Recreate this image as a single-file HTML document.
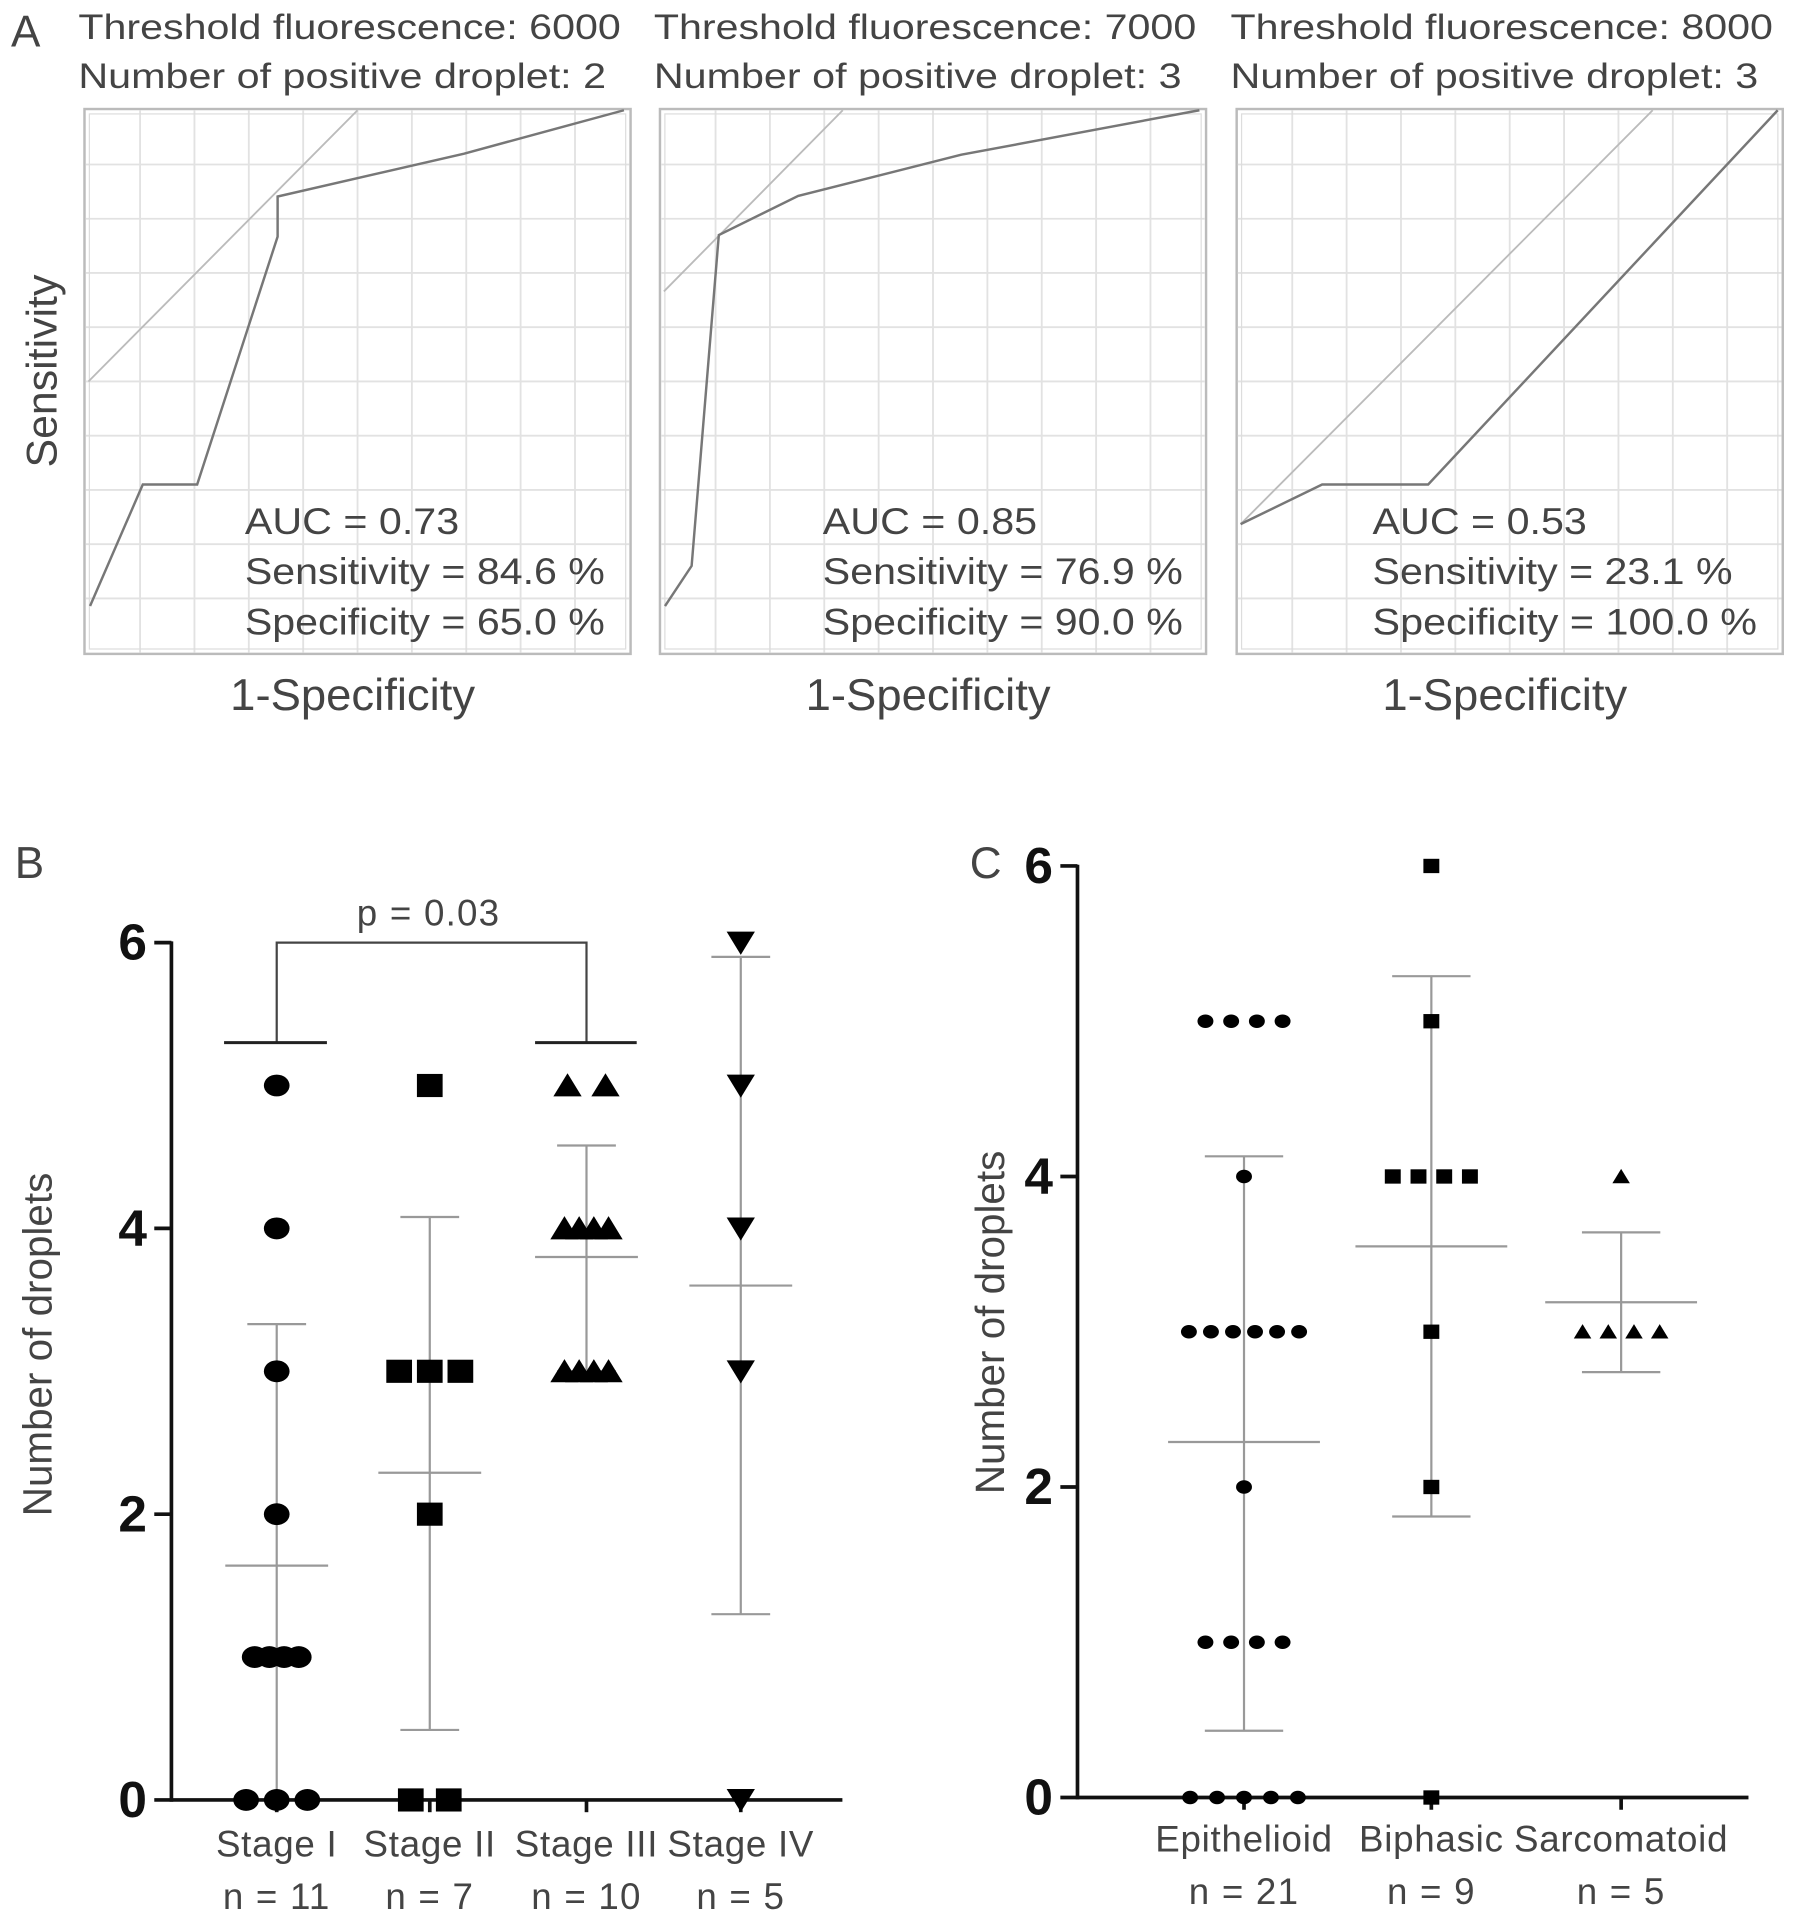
<!DOCTYPE html>
<html><head><meta charset="utf-8"><style>
html,body{margin:0;padding:0;background:#fff;}
svg{display:block;}
text{font-family:"Liberation Sans",sans-serif;}
</style></head><body>
<svg id="fig" xmlns="http://www.w3.org/2000/svg" width="1795" height="1920" viewBox="0 0 1466 1568">
<rect x="0" y="0" width="1466" height="1568" fill="#fff"/>
<g id="panelA"></g>
<g id="panelB"></g>
<g id="panelC"></g>
</svg>
<script>
// ---- Panel A data (ROC curves) ----
const rocThresholds = ["6000", "7000", "8000"];
const rocPositive = ["2", "3", "3"];
const rocAUC = ["0.73", "0.85", "0.53"];
const rocSens = ["84.6", "76.9", "23.1"];
const rocSpec = ["65.0", "90.0", "100.0"];
const roc1X = [0.008, 0.105, 0.205, 0.353, 0.353, 0.696, 0.99];
const roc1Y = [0.086, 0.31, 0.31, 0.767, 0.841, 0.92, 1.0];
const roc2X = [0.007, 0.056, 0.106, 0.252, 0.552, 0.99];
const roc2Y = [0.086, 0.16, 0.77, 0.842, 0.918, 1.0];
const roc3X = [0.005, 0.155, 0.35, 0.993];
const roc3Y = [0.237, 0.31, 0.31, 1.0];
const refStartY = [0.5, 0.666, 0.237];

// ---- Panel B data ----
const stageCats = ["Stage I", "Stage II", "Stage III", "Stage IV"];
const stageN = ["n = 11", "n = 7", "n = 10", "n = 5"];
const stageI = [5, 4, 3, 2, 1, 1, 1, 1, 0, 0, 0];
const stageII = [5, 3, 3, 3, 2, 0, 0];
const stageIII = [5, 5, 4, 4, 4, 4, 3, 3, 3, 3];
const stageIV = [6, 5, 4, 3, 0];
const stageMean = [1.64, 2.29, 3.8, 3.6];
const stageSDTop = [3.33, 4.08, 4.58, 5.9];
const stageSDBot = [-0.1, 0.49, 3.0, 1.3];
const bTicks = ["0", "2", "4", "6"];

// ---- Panel C data ----
const histCats = ["Epithelioid", "Biphasic", "Sarcomatoid"];
const histN = ["n = 21", "n = 9", "n = 5"];
const epithelioid = [5, 5, 5, 5, 4, 3, 3, 3, 3, 3, 3, 2, 1, 1, 1, 1, 0, 0, 0, 0, 0];
const biphasic = [6, 5, 4, 4, 4, 4, 3, 2, 0];
const sarcomatoid = [4, 3, 3, 3, 3];
const histMean = [2.29, 3.55, 3.19];
const histSDTop = [4.13, 5.29, 3.64];
const histSDBot = [0.43, 1.81, 2.74];
const cTicks = ["0", "2", "4", "6"];

const NS = "http://www.w3.org/2000/svg";
function mk(parent, tag, attrs, txt) {
  const e = document.createElementNS(NS, tag);
  for (const k in attrs) e.setAttribute(k, attrs[k]);
  if (txt !== undefined) e.textContent = txt;
  parent.appendChild(e);
  return e;
}

// ===== Panel A =====
const A = document.getElementById('panelA');
const lblA = mk(A, 'text', {x: 9, y: 38, 'font-size': 36, fill: '#444'}, 'A');


const boxX = [70, 540, 1011];
const statX = [200, 672, 1121];
const boxY = 90, boxW = 444, boxH = 443;
const rocXs = [roc1X, roc2X, roc3X], rocYs = [roc1Y, roc2Y, roc3Y];
for (let p = 0; p < 3; p++) {
  const g = mk(A, 'g', {});
  
  
  const bx = boxX[p];
  const sx = v => bx + v * boxW;
  const sy = v => boxY + boxH - v * boxH;
  const t1 = mk(g, 'text', {x: bx - 6, y: 32, 'font-size': 29, fill: '#444', textLength: 443, lengthAdjust: 'spacingAndGlyphs'}, 'Threshold  fluorescence: ' + rocThresholds[p]);
  
  
  const t2 = mk(g, 'text', {x: bx - 6, y: 72, 'font-size': 29, fill: '#444', textLength: 431, lengthAdjust: 'spacingAndGlyphs'}, 'Number  of positive droplet:  ' + rocPositive[p]);
  
  
  mk(g, 'rect', {x: bx - 1, y: boxY - 1, width: boxW + 2, height: boxH + 2, fill: '#fff', stroke: '#bbb', 'stroke-width': 2});
  for (let i = 1; i < 10; i++) {
    mk(g, 'line', {x1: sx(i / 10), x2: sx(i / 10), y1: boxY, y2: boxY + boxH, stroke: '#e2e2e2', 'stroke-width': 1.5});
    mk(g, 'line', {y1: sy(i / 10), y2: sy(i / 10), x1: bx, x2: bx + boxW, stroke: '#e2e2e2', 'stroke-width': 1.5});
  }
  mk(g, 'rect', {x: bx + 3, y: boxY + 3, width: boxW - 6, height: boxH - 6, fill: 'none', stroke: '#ddd', 'stroke-width': 1});
  const r0 = refStartY[p];
  const ref = mk(g, 'line', {x1: sx(0.005), y1: sy(r0), x2: sx(1 - r0), y2: sy(1), stroke: '#bbb', 'stroke-width': 1.5});
  
  
  const pts = rocXs[p].map((v, i) => sx(v) + ',' + sy(rocYs[p][i])).join(' ');
  const curve = mk(g, 'polyline', {points: pts, fill: 'none', stroke: '#777', 'stroke-width': 2});
  
  
  const tx = statX[p], tw = p === 2 ? 314 : 294;
  const s1 = mk(g, 'text', {x: tx, y: 436, 'font-size': 30, fill: '#444', textLength: 175, lengthAdjust: 'spacingAndGlyphs'}, 'AUC  = ' + rocAUC[p]);
  
  
  const s2 = mk(g, 'text', {x: tx, y: 477, 'font-size': 30, fill: '#444', textLength: 294, lengthAdjust: 'spacingAndGlyphs'}, 'Sensitivity = ' + rocSens[p] + ' %');
  
  
  const s3 = mk(g, 'text', {x: tx, y: 518, 'font-size': 30, fill: '#444', textLength: tw, lengthAdjust: 'spacingAndGlyphs'}, 'Specificity = ' + rocSpec[p] + ' %');
  
  
  const xl = mk(g, 'text', {x: bx + boxW / 2 - 4, y: 580, 'font-size': 36, fill: '#444', 'text-anchor': 'middle', textLength: 200, lengthAdjust: 'spacingAndGlyphs'}, '1-Specificity');
  
  
}
const sensLbl = mk(A, 'text', {x: 0, y: 0, 'font-size': 35, fill: '#444', 'text-anchor': 'middle', transform: 'translate(46,303) rotate(-90)'}, 'Sensitivity');



// ===== Dot plot helper =====
function dotPlot(G, cfg) {
  const y = v => cfg.y0 - v * cfg.unit;
  const ya = mk(G, 'line', {x1: cfg.ax, x2: cfg.ax, y1: y(6) - 1, y2: cfg.y0 + 1.5, stroke: '#111', 'stroke-width': 3});
  
  
  const xa = mk(G, 'line', {x1: cfg.ax, x2: cfg.axEnd, y1: cfg.y0, y2: cfg.y0, stroke: '#111', 'stroke-width': 3});
  
  
  cfg.ticks.forEach(t => {
    const v = +t;
    mk(G, 'line', {x1: cfg.ax - 14, x2: cfg.ax, y1: y(v), y2: y(v), stroke: '#111', 'stroke-width': 3});
    const tl = mk(G, 'text', {x: cfg.ax - 20, y: y(v) + 14, 'font-size': 42, 'font-weight': 'bold', fill: '#111', 'text-anchor': 'end'}, t);
    
    
  });
  const yt = mk(G, 'text', {x: 0, y: 0, 'font-size': 33, fill: '#444', 'text-anchor': 'middle', transform: 'translate(' + cfg.ytX + ',' + cfg.ytY + ') rotate(-90)'}, 'Number of droplets');
  
  
  cfg.groups.forEach((vals, gi) => {
    const cx = cfg.cx[gi];
    mk(G, 'line', {x1: cx, x2: cx, y1: cfg.y0, y2: cfg.y0 + 10, stroke: '#111', 'stroke-width': 3});
    const c1 = mk(G, 'text', {x: cx, y: cfg.labY, 'font-size': 30, fill: '#444', 'text-anchor': 'middle', 'letter-spacing': 0.6}, cfg.cats[gi]);
    
    
    const c2 = mk(G, 'text', {x: cx, y: cfg.labY + 43, 'font-size': 30, fill: '#444', 'text-anchor': 'middle', 'letter-spacing': 1}, cfg.ns[gi]);
    
    
    const sdTop = Math.min(cfg.sdTop[gi], 6.2), sdBot = Math.max(cfg.sdBot[gi], 0);
    const eb = mk(G, 'g', {stroke: '#999', 'stroke-width': 1.8});
    
    
    mk(eb, 'line', {x1: cx, x2: cx, y1: y(sdTop), y2: y(sdBot)});
    mk(eb, 'line', {x1: cx - cfg.meanHW, x2: cx + cfg.meanHW, y1: y(cfg.mean[gi]), y2: y(cfg.mean[gi])});
    mk(eb, 'line', {x1: cx - cfg.capHW, x2: cx + cfg.capHW, y1: y(sdTop), y2: y(sdTop)});
    if (cfg.sdBot[gi] >= 0) mk(eb, 'line', {x1: cx - cfg.capHW, x2: cx + cfg.capHW, y1: y(sdBot), y2: y(sdBot)});
    const counts = {};
    vals.forEach(v => counts[v] = (counts[v] || 0) + 1);
    const seen = {};
    vals.forEach(v => {
      const k = counts[v];
      const i = seen[v] = (seen[v] === undefined ? 0 : seen[v] + 1);
      const sp = cfg.spacing(k);
      const px = cx + (i - (k - 1) / 2) * sp;
      const py = y(v);
      const s = cfg.size;
      let m;
      const shape = cfg.shapes[gi];
      if (shape === 'circle') m = mk(G, 'ellipse', {cx: px, cy: py, rx: s, ry: s * 0.85, fill: '#000'});
      else if (shape === 'square') m = mk(G, 'rect', {x: px - s, y: py - s * 0.9, width: 2 * s, height: 1.8 * s, fill: '#000'});
      else if (shape === 'up') m = mk(G, 'polygon', {points: (px - s * 1.1) + ',' + (py + s * 0.85) + ' ' + (px + s * 1.1) + ',' + (py + s * 0.85) + ' ' + px + ',' + (py - s * 0.95), fill: '#000'});
      else m = mk(G, 'polygon', {points: (px - s * 1.1) + ',' + (py - s * 0.85) + ' ' + (px + s * 1.1) + ',' + (py - s * 0.85) + ' ' + px + ',' + (py + s * 0.95), fill: '#000'});
      
      
    });
  });
}

// ===== Panel B =====
const B = document.getElementById('panelB');
const lblB = mk(B, 'text', {x: 12, y: 717, 'font-size': 36, fill: '#444'}, 'B');


const bCfg = {y0: 1470, unit: 116.7, ax: 140, axEnd: 688, ticks: bTicks, ytX: 42, ytY: 1098,
  cx: [226, 351, 479, 605], cats: stageCats, ns: stageN, labY: 1516,
  groups: [stageI, stageII, stageIII, stageIV], mean: stageMean, sdTop: stageSDTop, sdBot: stageSDBot,
  meanHW: 42, capHW: 24, size: 10.5, shapes: ['circle', 'square', 'up', 'down'],
  spacing: k => k >= 4 ? 12 : (k === 2 ? 31 : 25)};
dotPlot(B, bCfg);
const br = mk(B, 'g', {stroke: '#444', 'stroke-width': 1.8, fill: 'none'});


const yB = v => bCfg.y0 - v * bCfg.unit;
const bracketY = 5.3, bracketTop = 6.0;
mk(br, 'polyline', {points: bCfg.cx[0] + ',' + yB(bracketY) + ' ' + bCfg.cx[0] + ',' + yB(bracketTop) + ' ' + bCfg.cx[2] + ',' + yB(bracketTop) + ' ' + bCfg.cx[2] + ',' + yB(bracketY)});
mk(br, 'line', {x1: bCfg.cx[0] - 43, x2: bCfg.cx[0] + 41, y1: yB(bracketY), y2: yB(bracketY), 'stroke-width': 2.5, stroke: '#222'});
mk(br, 'line', {x1: bCfg.cx[2] - 42, x2: bCfg.cx[2] + 41, y1: yB(bracketY), y2: yB(bracketY), 'stroke-width': 2.5, stroke: '#222'});
const pv = mk(B, 'text', {x: 350, y: 756, 'font-size': 30, fill: '#444', 'text-anchor': 'middle', 'letter-spacing': 1}, 'p = 0.03');



// ===== Panel C =====
const C = document.getElementById('panelC');
const lblC = mk(C, 'text', {x: 792, y: 717, 'font-size': 36, fill: '#444'}, 'C');


dotPlot(C, {y0: 1468, unit: 126.8, ax: 880, axEnd: 1428, ticks: cTicks, ytX: 820, ytY: 1080,
  cx: [1016, 1169, 1324], cats: histCats, ns: histN, labY: 1512,
  groups: [epithelioid, biphasic, sarcomatoid], mean: histMean, sdTop: histSDTop, sdBot: histSDBot,
  meanHW: 62, capHW: 32, size: 6.5, shapes: ['circle', 'square', 'up'],
  spacing: k => k >= 6 ? 18 : (k === 5 ? 22 : 21)});
</script>
</body></html>
